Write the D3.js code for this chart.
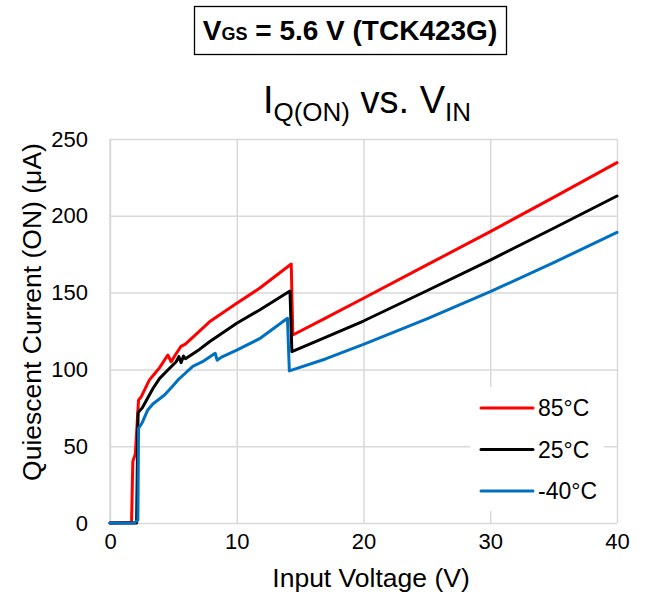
<!DOCTYPE html>
<html>
<head>
<meta charset="utf-8">
<script src="https://cdn.jsdelivr.net/npm/d3@7"></script>
<style>
  body { margin: 0; background: #fff; }
  text { font-family: "Liberation Sans", Arial, sans-serif; fill: #000; }
</style>
</head>
<body>
<script>
var width = 646;
var height = 601;
var margin = {top: 139, right: 29, bottom: 78, left: 110};
var w = width - margin.left - margin.right;
var h = height - margin.top - margin.bottom;

// series values: [input voltage (V), quiescent current (uA)]
var iq85 = [[0,0],[1.7,0.5],[1.8,40],[2.0,45],[2.25,80],[2.45,82],[3.1,93],[3.5,97],[3.9,101],
  [4.56,109.4],[4.83,105],[5.2,110],[5.6,115],[5.95,116.5],[7.85,131],[10,143],[11.8,152.8],
  [14.3,168.6],[14.42,122.4],[17,133.4],[20,146.3],[25,168],[30,189.7],[35,212],[40,234.6]];
var iq25 = [[0,0],[2.1,0],[2.19,60],[2.22,72],[2.55,75],[3.4,87.7],[3.9,94],[4.43,98.5],
  [5.22,105],[5.43,108.3],[5.61,104.4],[5.8,108.7],[5.95,107],[7.06,113],[7.85,118],[10,130],
  [11.8,138.7],[14.2,151],[14.35,111.5],[17,120.8],[20,131.5],[25,151.2],[30,171.2],[35,191.9],[40,212.9]];
var iqm40 = [[0,0],[1.93,0],[2.2,2],[2.25,61.6],[2.54,65.3],[2.98,73.6],[3.38,77.5],[4.3,83.3],
  [4.9,88.7],[5.35,93],[5.7,95.7],[6.53,102],[7.3,105],[8.3,110.5],[8.45,106],[8.8,108],
  [10,112.6],[11.8,120],[14.0,133.3],[14.15,99],[17,106.8],[20,116.3],[25,132.9],[30,150.6],
  [35,169.5],[40,189.2]];

var seriesNames = ["85°C", "25°C", "-40°C"];
var seriesColors = ["#FF0000", "#000000", "#0070C0"];
var seriesData = [iq85, iq25, iqm40];

var xTicks = [0, 10, 20, 30, 40];
var yTicks = [0, 50, 100, 150, 200, 250];

var svg = d3.select("body").append("svg")
    .attr("width", width)
    .attr("height", height);

// condition box on top
svg.append("rect")
    .attr("x", 194.5).attr("y", 6.5)
    .attr("width", 312).attr("height", 48)
    .attr("fill", "#fff")
    .attr("stroke", "#000")
    .attr("stroke-width", 1.3);

var cond = svg.append("text")
    .attr("x", 350).attr("y", 40)
    .attr("text-anchor", "middle")
    .style("font-weight", "bold")
    .style("font-size", "28px");
cond.append("tspan").text("V");
cond.append("tspan").style("font-size", "18px").text("GS");
cond.append("tspan").text(" = 5.6 V (TCK423G)");

// chart title
var title = svg.append("text")
    .attr("x", 367).attr("y", 113)
    .attr("text-anchor", "middle")
    .style("font-size", "38px");
title.append("tspan").text("I");
title.append("tspan").attr("dy", 8).style("font-size", "26px").text("Q(ON)");
title.append("tspan").attr("dy", -8).text(" vs. V");
title.append("tspan").attr("dy", 8).style("font-size", "26px").text("IN");

var chart = svg.append("g")
    .attr("transform", "translate(" + margin.left + "," + margin.top + ")");

var x = d3.scaleLinear()
    .domain([0, 40])
    .range([0, w]);

var y = d3.scaleLinear()
    .domain([0, 250])
    .range([h, 0]);

// gridlines
chart.append("g")
    .attr("class", "grid")
    .attr("transform", "translate(0," + h + ")")
    .call(d3.axisBottom(x).tickValues(xTicks).tickSize(-h).tickFormat(""))
    .call(function(g) { g.select(".domain").remove(); });

chart.append("g")
    .attr("class", "grid")
    .call(d3.axisLeft(y).tickValues(yTicks).tickSize(-w).tickFormat(""))
    .call(function(g) { g.select(".domain").remove(); });

chart.selectAll(".grid line")
    .attr("stroke", "#D9D9D9")
    .attr("stroke-width", 1.5);

// left axis line
chart.append("line")
    .attr("x1", 0).attr("x2", 0)
    .attr("y1", 0).attr("y2", h)
    .attr("stroke", "#D9D9D9")
    .attr("stroke-width", 1.5);

// tick labels
var xAxis = chart.append("g")
    .attr("transform", "translate(0," + h + ")")
    .call(d3.axisBottom(x).tickValues(xTicks).tickSize(0).tickPadding(10));
xAxis.select(".domain").remove();
xAxis.selectAll("text")
    .style("font-size", "22px")
    .style("font-family", "Liberation Sans, Arial, sans-serif")
    .attr("fill", "#000");

var yAxis = chart.append("g")
    .call(d3.axisLeft(y).tickValues(yTicks).tickSize(0).tickPadding(22));
yAxis.select(".domain").remove();
yAxis.selectAll("text")
    .style("font-size", "22px")
    .style("font-family", "Liberation Sans, Arial, sans-serif")
    .attr("fill", "#000");

// axis titles
svg.append("text")
    .attr("x", 371).attr("y", 587)
    .attr("text-anchor", "middle")
    .style("font-size", "26.5px")
    .text("Input Voltage (V)");

svg.append("text")
    .attr("transform", "translate(41,312) rotate(-90)")
    .attr("text-anchor", "middle")
    .style("font-size", "26.5px")
    .text("Quiescent Current (ON) (μA)");

// curves
var line = d3.line()
    .x(function(d) { return x(d[0]); })
    .y(function(d) { return y(d[1]); });

chart.selectAll(".curve")
    .data(seriesData)
  .enter().append("path")
    .attr("class", "curve")
    .attr("d", line)
    .attr("fill", "none")
    .attr("stroke", function(d, i) { return seriesColors[i]; })
    .attr("stroke-width", 3)
    .attr("stroke-linejoin", "round")
    .attr("stroke-linecap", "round");

// legend
var legend = svg.append("g");
legend.append("rect")
    .attr("x", 470).attr("y", 387)
    .attr("width", 134).attr("height", 124)
    .attr("fill", "#fff");

var item = legend.selectAll(".item")
    .data(seriesNames)
  .enter().append("g")
    .attr("class", "item")
    .attr("transform", function(d, i) { return "translate(481," + (408 + i * 41.5) + ")"; });

item.append("line")
    .attr("x1", 0).attr("x2", 52)
    .attr("stroke", function(d, i) { return seriesColors[i]; })
    .attr("stroke-width", 3)
    .attr("stroke-linecap", "round");

item.append("text")
    .attr("x", 57).attr("y", 8)
    .style("font-size", "23px")
    .text(function(d) { return d; });
</script>
</body>
</html>
